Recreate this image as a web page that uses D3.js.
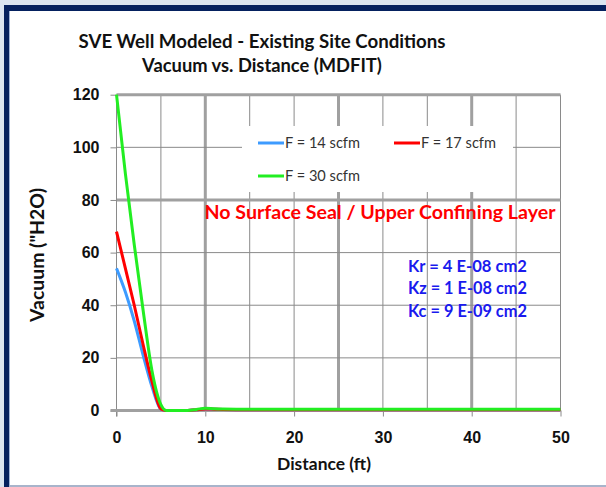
<!DOCTYPE html>
<html>
<head>
<meta charset="utf-8">
<script src="https://cdn.jsdelivr.net/npm/d3@7"></script>
<style>
  body { margin: 0; background: #fff; }
  svg { display: block; font-family: Lato, "Open Sans", sans-serif; }
</style>
</head>
<body>
<svg id="chart" width="606" height="487"></svg>
<script>
// values
const distance = [0, 1, 2, 3, 4, 5, 5.6, 8, 9, 10, 11, 12, 15, 20, 30, 40, 50];
const f14 = [54, 45, 34, 21, 9, 0.5, 0, 0, 0.3, 0.6, 0.5, 0.4, 0.3, 0.3, 0.3, 0.3, 0.3];
const f17 = [68, 54, 40, 25, 11, 0.6, 0, 0, 0.3, 0.6, 0.5, 0.4, 0.3, 0.3, 0.3, 0.3, 0.3];
const f30 = [120, 90, 63, 38, 15, 2.2, 0, 0, 0.4, 0.9, 0.7, 0.6, 0.5, 0.5, 0.5, 0.5, 0.5];
const seriesNames = ["F = 14 scfm", "F = 17 scfm", "F = 30 scfm"];
const xTicks = [0, 10, 20, 30, 40, 50];
const yTicks = [0, 20, 40, 60, 80, 100, 120];
const kLines = ["Kr = 4 E-08 cm2", "Kz = 1 E-08 cm2", "Kc = 9 E-09 cm2"];

const C = { f14: "#3d9bff", f17: "#ff0000", f30: "#22ee22", navy: "#05215f", pale: "#dbe5f1" };

const svg = d3.select("#chart");

// scale a text's font so it spans the width seen in the reference
function fit(sel, width) {
  const fs = parseFloat(sel.style("font-size"));
  const w = sel.node().getComputedTextLength();
  sel.style("font-size", (fs * width / w).toFixed(2) + "px");
  return sel;
}

// frame
svg.append("rect").attr("x", 0).attr("y", 0).attr("width", 606).attr("height", 5).attr("fill", C.pale);
svg.append("rect").attr("x", 0).attr("y", 0).attr("width", 4).attr("height", 487).attr("fill", C.pale);
svg.append("rect").attr("x", 4).attr("y", 5).attr("width", 602).attr("height", 6).attr("fill", C.navy);
svg.append("rect").attr("x", 4).attr("y", 5).attr("width", 5).attr("height", 482).attr("fill", C.navy);
svg.append("rect").attr("x", 9).attr("y", 11).attr("width", 1).attr("height", 476).attr("fill", "#9fb3d6");
svg.append("rect").attr("x", 10).attr("y", 485).attr("width", 596).attr("height", 2).attr("fill", "#a8b4cb");

const x = d3.scaleLinear().domain([0, 50]).range([116.5, 560.5]);
const y = d3.scaleLinear().domain([0, 120]).range([410.5, 94.7]);

const g = svg.append("g");

// grid
const thickX = [10, 25, 40];
d3.range(5, 51, 5).forEach(v => {
  const thick = thickX.includes(v);
  g.append("line").attr("x1", x(v)).attr("x2", x(v)).attr("y1", y(120)).attr("y2", y(0))
    .attr("stroke", thick ? "#a0a0a0" : "#8a8a8a").attr("stroke-width", thick ? 3 : 1);
});
yTicks.slice(1).forEach(v => {
  const thick = v === 80 || v === 120;
  g.append("line").attr("x1", x(0)).attr("x2", x(50)).attr("y1", y(v)).attr("y2", y(v))
    .attr("stroke", thick ? "#a0a0a0" : "#8a8a8a").attr("stroke-width", thick ? 3 : 1);
});

// axes
const yAxis = g.append("g").attr("transform", `translate(${x(0)},0)`)
  .call(d3.axisLeft(y).tickValues(yTicks).tickSize(6).tickPadding(11));
const xAxis = g.append("g").attr("transform", `translate(0,${y(0)})`)
  .call(d3.axisBottom(x).tickValues(xTicks).tickSize(6).tickPadding(15));
[yAxis, xAxis].forEach(a => {
  a.select(".domain").remove();
  a.selectAll(".tick line").attr("stroke", "#8a8a8a");
  a.selectAll("text").attr("fill", "#111").style("font-size", "16px").style("font-weight", "700");
});
g.append("line").attr("x1", x(0)).attr("x2", x(0)).attr("y1", y(120)).attr("y2", y(0) + 6)
  .attr("stroke", "#8a8a8a").attr("stroke-width", 1);
g.append("line").attr("x1", x(0) - 6).attr("x2", x(50)).attr("y1", y(0)).attr("y2", y(0))
  .attr("stroke", "#a0a0a0").attr("stroke-width", 3);

// legend box (covers grid)
g.append("rect").attr("x", 242).attr("y", 126).attr("width", 271).attr("height", 66).attr("fill", "#fff");

// series
const line = d3.line().x((d, i) => x(distance[i])).y(d => y(d)).curve(d3.curveMonotoneX);
[[f14, C.f14], [f17, C.f17], [f30, C.f30]].forEach(([vals, col]) => {
  g.append("path").datum(vals).attr("d", line)
    .attr("fill", "none").attr("stroke", col).attr("stroke-width", 3).attr("stroke-linejoin", "round");
});

// legend
const legPos = [[258, 143], [394, 143], [258, 176]];
[C.f14, C.f17, C.f30].forEach((col, i) => {
  const [lx, ly] = legPos[i];
  g.append("line").attr("x1", lx).attr("x2", lx + 26).attr("y1", ly).attr("y2", ly)
    .attr("stroke", col).attr("stroke-width", 3);
  fit(g.append("text").attr("x", lx + 27).attr("y", ly + 5).text(seriesNames[i])
    .style("font-size", "14px").attr("fill", "#333"), 75);
});

// titles
fit(svg.append("text").attr("x", 262).attr("y", 48).attr("text-anchor", "middle")
  .style("font-size", "18px").style("font-weight", "700").attr("fill", "#111")
  .text("SVE Well Modeled - Existing Site Conditions"), 367);
fit(svg.append("text").attr("x", 262).attr("y", 72).attr("text-anchor", "middle")
  .style("font-size", "18px").style("font-weight", "700").attr("fill", "#111")
  .text("Vacuum vs. Distance (MDFIT)"), 240);
fit(svg.append("text").attr("x", 324).attr("y", 470).attr("text-anchor", "middle")
  .style("font-size", "16px").style("font-weight", "700").attr("fill", "#111")
  .text("Distance (ft)"), 94);
fit(svg.append("text").attr("transform", "translate(44,255) rotate(-90)").attr("text-anchor", "middle")
  .style("font-size", "16px").style("font-weight", "700").attr("fill", "#111")
  .text("Vacuum (\"H2O)"), 134);

// annotations
fit(svg.append("text").attr("x", 380).attr("y", 219).attr("text-anchor", "middle")
  .style("font-size", "19px").style("font-weight", "700").attr("fill", "#ff0000")
  .text("No Surface Seal / Upper Confining Layer"), 351);
kLines.forEach((t, i) => {
  fit(svg.append("text").attr("x", 408).attr("y", 272 + i * 22.4)
    .style("font-size", "18px").style("font-weight", "700").attr("fill", "#1a1aee")
    .text(t), 119);
});
</script>
</body>
</html>
